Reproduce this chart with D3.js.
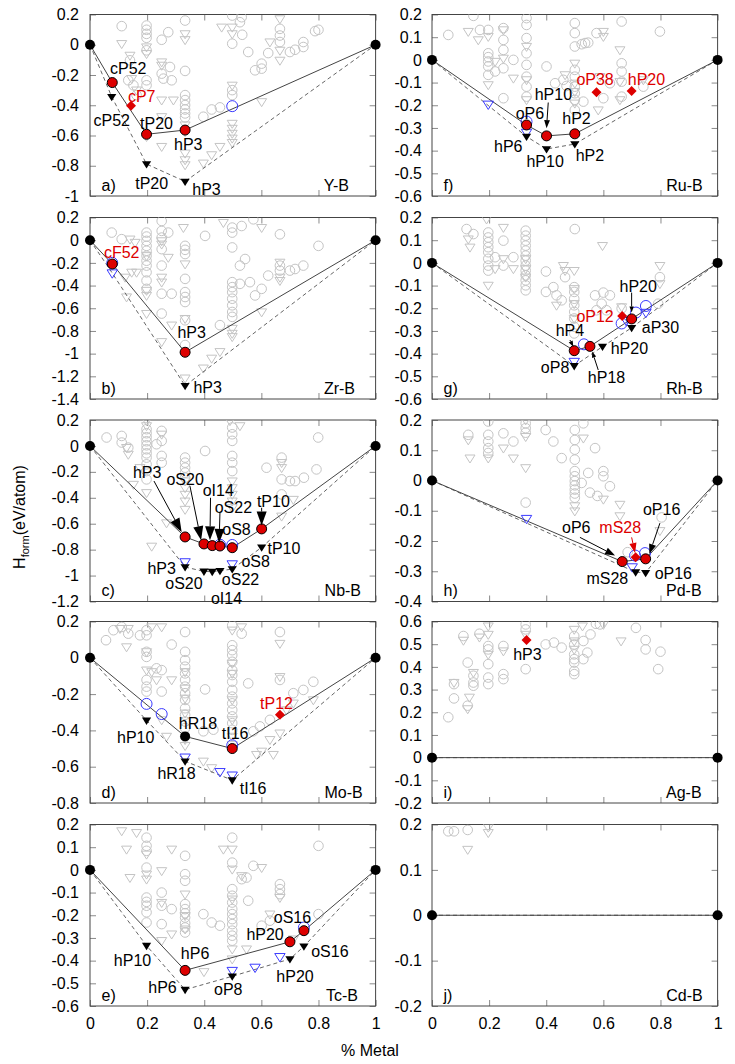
<!DOCTYPE html>
<html><head><meta charset="utf-8">
<script src="https://cdn.jsdelivr.net/npm/d3@7"></script>
<style>body{margin:0;background:#fff}svg{display:block}</style>
</head><body><svg id="chart" width="735" height="1064"></svg>
<script>
// ---------------- DATA ----------------
const xTicks = [0, 0.2, 0.4, 0.6, 0.8, 1];
const xTickLabels = ['0', '0.2', '0.4', '0.6', '0.8', '1'];
const endPoints = [[0, 0], [1, 0]];

// a) Y-B
const yb_yTicks = [-1, -0.8, -0.6, -0.4, -0.2, 0, 0.2];
const yb_grayCircles = [[0.111,0.123],[0.198,0.127],[0.198,0.099],[0.198,0.072],[0.198,0.046],[0.198,-0.037],[0.251,0.033],[0.274,0.083],[0.333,0.16],[0.498,0.193],[0.531,0.182],[0.525,0.149],[0.533,0.066],[0.498,0.007],[0.554,-0.048],[0.624,-0.055],[0.665,0.105],[0.665,0.061],[0.665,0.018],[0.7,-0.048],[0.718,-0.033],[0.747,0.018],[0.747,-0.015],[0.8,0.099],[0.788,0.09],[0.601,-0.125],[0.601,-0.158],[0.578,-0.169],[0.198,-0.235],[0.198,-0.268],[0.251,-0.191],[0.257,-0.224],[0.28,-0.147],[0.286,-0.235],[0.333,-0.173],[0.333,-0.333],[0.333,-0.366],[0.333,-0.399],[0.333,-0.428],[0.333,-0.454],[0.333,-0.48],[0.397,-0.476],[0.426,-0.428],[0.455,-0.414],[0.498,-0.3],[0.498,-0.333],[0.14,-0.103],[0.134,-0.235],[0.152,-0.268],[0.163,-0.333]];
const yb_grayTris = [[0.111,0.007],[0.14,-0.07],[0.198,-0.015],[0.198,-0.059],[0.251,-0.114],[0.251,-0.136],[0.333,0.072],[0.333,0.033],[0.333,-0.531],[0.333,-0.575],[0.333,-0.717],[0.333,-0.761],[0.333,-0.794],[0.292,-0.366],[0.251,-0.366],[0.251,-0.476],[0.198,-0.607],[0.251,-0.673],[0.397,-0.783],[0.426,-0.728],[0.455,-0.673],[0.498,0.116],[0.498,0.072],[0.461,0.116],[0.665,0.171],[0.63,0.018],[0.665,-0.037],[0.665,-0.103],[0.498,-0.268],[0.498,-0.52],[0.498,-0.553],[0.498,-0.586],[0.498,-0.618],[0.498,-0.647],[0.601,-0.377],[0.146,-0.224],[0.163,-0.3]];
const yb_hull = [[0,0],[0.078,-0.25],[0.198,-0.592],[0.333,-0.564],[1,0]];
const yb_hullAlt = [[0,0],[0.076,-0.344],[0.198,-0.789],[0.333,-0.904],[1,0]];
const yb_red = [[0.078,-0.25],[0.198,-0.592],[0.333,-0.564]];
const yb_black = [];
const yb_tris = [[0.076,-0.344],[0.198,-0.789],[0.333,-0.904]];
const yb_blueCircles = [[0.498,-0.406]];
const yb_blueTris = [];
const yb_offHull = [[0.1435,-0.403]];
const yb_labels = [['cP52',0.134,-0.158,0],['cP7',0.181,-0.344,1],['cP52',0.076,-0.498,0],['tP20',0.233,-0.52,0],['hP3',0.344,-0.662,0],['tP20',0.216,-0.914,0],['hP3',0.408,-0.958,0]];
const yb_arrows = [];

// b) Zr-B
const zrb_yTicks = [-1.4, -1.2, -1, -0.8, -0.6, -0.4, -0.2, 0, 0.2];
const zrb_grayCircles = [[0.076,0.067],[0.111,0.009],[0.198,0.067],[0.198,0.032],[0.198,-0.006],[0.198,-0.05],[0.198,-0.093],[0.198,-0.137],[0.198,-0.181],[0.198,-0.224],[0.198,-0.283],[0.198,-0.356],[0.198,-0.429],[0.251,0.169],[0.251,0.082],[0.274,0.067],[0.251,-0.079],[0.251,-0.224],[0.251,-0.472],[0.251,-0.647],[0.286,-0.472],[0.333,-0.05],[0.333,-0.085],[0.333,-0.122],[0.333,-0.341],[0.333,-0.458],[0.333,-0.501],[0.333,-0.545],[0.333,-0.706],[0.333,-0.924],[0.403,0.038],[0.455,-0.749],[0.498,0.111],[0.498,0.067],[0.498,-0.064],[0.498,-0.37],[0.498,-0.414],[0.498,-0.458],[0.498,-0.516],[0.498,-0.574],[0.498,-0.633],[0.498,-0.676],[0.531,0.125],[0.525,-0.224],[0.543,-0.166],[0.525,-0.385],[0.56,-0.37],[0.572,0.184],[0.601,-0.429],[0.578,-0.487],[0.624,-0.312],[0.665,0.052],[0.7,-0.268],[0.718,-0.254],[0.747,-0.224],[0.8,-0.05],[0.251,0.023],[0.665,-0.224],[0.665,-0.268]];
const zrb_grayTris = [[0.327,0.111],[0.333,-0.21],[0.251,-0.006],[0.251,-0.035],[0.274,-0.152],[0.14,0.009],[0.158,-0.02],[0.123,-0.327],[0.146,-0.283],[0.163,-0.283],[0.198,-0.443],[0.198,-0.487],[0.251,-0.327],[0.251,-0.37],[0.198,-0.647],[0.286,-0.749],[0.251,-0.895],[0.333,-0.691],[0.333,-1.216],[0.397,-1.128],[0.426,-1.041],[0.455,-0.983],[0.498,-0.778],[0.498,-0.822],[0.498,-0.851],[0.467,0.155],[0.601,0.111],[0.601,-0.633],[0.665,-0.195],[0.665,-0.327],[0.665,-0.356],[0.198,-0.137],[0.128,-0.501]];
const zrb_hull = [[0,0],[0.078,-0.21],[0.333,-0.988],[1,0]];
const zrb_hullAlt = [[0,0],[0.078,-0.29],[0.333,-1.283],[1,0]];
const zrb_red = [[0.078,-0.21],[0.333,-0.988]];
const zrb_black = [];
const zrb_tris = [[0.333,-1.283]];
const zrb_blueCircles = [[0.078,-0.2]];
const zrb_blueTris = [[0.078,-0.29]];
const zrb_offHull = [];
const zrb_labels = [['cF52',0.111,-0.108,1],['hP3',0.356,-0.816,0],['hP3',0.412,-1.297,0]];
const zrb_arrows = [];

// c) Nb-B
const nbb_yTicks = [-1.2, -1, -0.8, -0.6, -0.4, -0.2, 0, 0.2];
const nbb_grayCircles = [[0.058,0.065],[0.111,0.077],[0.111,0.026],[0.134,-0.013],[0.198,0.129],[0.198,0.098],[0.198,0.067],[0.198,0.036],[0.198,0.005],[0.198,-0.026],[0.198,-0.057],[0.198,-0.09],[0.198,-0.142],[0.198,-0.194],[0.198,-0.258],[0.251,0.116],[0.251,0.039],[0.251,-0.077],[0.251,-0.129],[0.333,-0.09],[0.333,-0.129],[0.333,-0.168],[0.333,-0.206],[0.333,-0.245],[0.403,-0.039],[0.498,0.142],[0.498,0.09],[0.498,0.039],[0.498,-0.077],[0.498,-0.129],[0.498,-0.194],[0.671,-0.09],[0.671,-0.258],[0.671,-0.374],[0.7,-0.271],[0.718,-0.271],[0.749,-0.245],[0.793,-0.181],[0.799,0.065],[0.618,-0.168],[0.233,0.013]];
const nbb_grayTris = [[0.128,-0.013],[0.134,-0.065],[0.198,0.194],[0.198,0.155],[0.175,-0.168],[0.251,0.09],[0.333,-0.271],[0.333,-0.323],[0.333,-0.374],[0.333,-0.426],[0.333,-0.49],[0.498,-0.271],[0.498,-0.323],[0.498,-0.374],[0.498,-0.426],[0.498,-0.477],[0.49,0.194],[0.525,0.155],[0.671,-0.129],[0.671,-0.168],[0.152,-0.297],[0.198,-0.361],[0.268,-0.594],[0.216,-0.774],[0.671,-0.542],[0.712,-0.413]];
const nbb_hull = [[0,0],[0.333,-0.702],[0.399,-0.756],[0.428,-0.769],[0.455,-0.772],[0.498,-0.785],[0.601,-0.64],[1,0]];
const nbb_hullAlt = [[0,0],[0.333,-0.934],[0.399,-0.968],[0.428,-0.97],[0.455,-0.963],[0.498,-0.95],[0.601,-0.782],[1,0]];
const nbb_red = [[0.333,-0.702],[0.399,-0.756],[0.428,-0.769],[0.455,-0.772],[0.498,-0.785],[0.601,-0.64]];
const nbb_black = [];
const nbb_tris = [[0.333,-0.934],[0.399,-0.968],[0.428,-0.97],[0.455,-0.963],[0.498,-0.95],[0.601,-0.782]];
const nbb_blueCircles = [[0.455,-0.762],[0.498,-0.764]];
const nbb_blueTris = [[0.333,-0.895],[0.498,-0.911]];
const nbb_offHull = [];
const nbb_labels = [['hP3',0.2,-0.206,0],['oS20',0.333,-0.258,0],['oI14',0.449,-0.341,0],['oS22',0.502,-0.477,0],['oS8',0.513,-0.645,0],['tP10',0.642,-0.426,0],['tP10',0.679,-0.787,0],['hP3',0.251,-0.942,0],['oS8',0.58,-0.89,0],['oS20',0.329,-1.058,0],['oS22',0.527,-1.033,0],['oI14',0.478,-1.176,0]];
const nbb_arrows = [[0.224,-0.271,0.321,-0.666,0],[0.35,-0.31,0.389,-0.728,0],[0.422,-0.4,0.42,-0.728,0],[0.455,-0.516,0.452,-0.748,0],[0.601,-0.477,0.601,-0.614,0]];

// d) Mo-B
const mob_yTicks = [-0.8, -0.6, -0.4, -0.2, 0, 0.2];
const mob_grayCircles = [[0.056,0.097],[0.082,0.152],[0.111,0.17],[0.134,0.133],[0.175,0.124],[0.198,0.152],[0.198,0.124],[0.198,0.033],[0.198,0.005],[0.198,-0.122],[0.198,-0.159],[0.198,-0.186],[0.251,-0.186],[0.233,-0.058],[0.251,-0.068],[0.286,0.073],[0.333,0.142],[0.333,0.033],[0.333,-0.013],[0.333,-0.049],[0.333,-0.086],[0.333,-0.122],[0.333,-0.159],[0.333,-0.195],[0.333,-0.232],[0.333,-0.278],[0.333,-0.314],[0.333,-0.351],[0.333,-0.387],[0.403,-0.174],[0.498,0.179],[0.498,0.069],[0.498,0.042],[0.498,0.015],[0.498,-0.022],[0.498,-0.068],[0.498,-0.095],[0.498,-0.132],[0.498,-0.177],[0.498,-0.214],[0.498,-0.251],[0.498,-0.287],[0.498,-0.323],[0.498,-0.36],[0.498,-0.397],[0.531,0.133],[0.554,-0.141],[0.665,0.142],[0.665,-0.122],[0.63,-0.342],[0.595,-0.378],[0.712,-0.195],[0.747,-0.177],[0.782,-0.132],[0.572,-0.405],[0.397,-0.405],[0.432,-0.396]];
const mob_grayTris = [[0.105,0.161],[0.134,0.161],[0.216,0.17],[0.251,0.17],[0.128,0.06],[0.198,0.033],[0.198,-0.068],[0.216,-0.077],[0.233,-0.122],[0.286,-0.122],[0.333,-0.077],[0.333,-0.168],[0.333,-0.223],[0.333,-0.305],[0.333,-0.451],[0.333,-0.484],[0.397,-0.57],[0.426,-0.606],[0.498,0.152],[0.498,-0.031],[0.498,-0.086],[0.498,-0.232],[0.498,-0.342],[0.498,-0.433],[0.498,-0.479],[0.531,0.17],[0.583,-0.533],[0.601,-0.515],[0.63,-0.451],[0.665,-0.415],[0.665,-0.104],[0.665,0.079],[0.642,-0.533],[0.688,-0.287],[0.712,-0.25],[0.782,-0.232],[0.268,-0.433],[0.251,-0.342]];
const mob_hull = [[0,0],[0.333,-0.433],[0.498,-0.5],[1,0]];
const mob_hullAlt = [[0,0],[0.198,-0.345],[0.333,-0.57],[0.498,-0.674],[1,0]];
const mob_red = [[0.498,-0.5]];
const mob_black = [[0.333,-0.433]];
const mob_tris = [[0.198,-0.345],[0.333,-0.57],[0.498,-0.674]];
const mob_blueCircles = [[0.198,-0.254],[0.251,-0.31],[0.498,-0.482]];
const mob_blueTris = [[0.455,-0.628],[0.333,-0.548],[0.498,-0.647]];
const mob_offHull = [[0.665,-0.314]];
const mob_labels = [['hP10',0.16,-0.437,0],['hR18',0.378,-0.363,0],['tI16',0.508,-0.415,0],['tP12',0.653,-0.25,1],['hR18',0.303,-0.637,0],['tI16',0.571,-0.721,0]];
const mob_arrows = [];

// e) Tc-B
const tcb_yTicks = [-0.6, -0.5, -0.4, -0.3, -0.2, -0.1, 0, 0.1, 0.2];
const tcb_grayCircles = [[0.198,0.142],[0.198,0.106],[0.198,0.084],[0.198,0.01],[0.333,0.062],[0.333,-0.019],[0.333,-0.048],[0.333,-0.151],[0.333,-0.173],[0.333,-0.191],[0.333,-0.21],[0.333,-0.235],[0.333,-0.254],[0.333,-0.276],[0.198,-0.122],[0.198,-0.141],[0.198,-0.158],[0.198,-0.187],[0.198,-0.232],[0.251,-0.1],[0.251,-0.158],[0.251,-0.239],[0.286,-0.173],[0.397,-0.195],[0.426,-0.232],[0.455,-0.246],[0.498,0.142],[0.498,0.032],[0.498,-0.085],[0.498,-0.114],[0.498,-0.144],[0.498,-0.173],[0.498,-0.195],[0.498,-0.217],[0.498,-0.239],[0.498,-0.268],[0.498,-0.29],[0.498,-0.312],[0.531,-0.041],[0.548,-0.034],[0.572,0.018],[0.554,-0.136],[0.665,-0.063],[0.665,-0.085],[0.665,-0.107],[0.8,0.106],[0.8,-0.195],[0.601,-0.246],[0.63,-0.224]];
const tcb_grayTris = [[0.111,0.172],[0.163,0.164],[0.128,0.091],[0.286,0.091],[0.467,0.091],[0.498,0.091],[0.601,0.01],[0.198,0.069],[0.198,-0.019],[0.198,-0.041],[0.14,-0.034],[0.251,-0.004],[0.251,-0.144],[0.333,-0.107],[0.286,-0.283],[0.251,-0.312],[0.333,-0.202],[0.333,-0.261],[0.399,-0.449],[0.498,0.003],[0.498,-0.129],[0.498,-0.349],[0.498,-0.393],[0.531,-0.026],[0.63,-0.195],[0.665,-0.122],[0.712,-0.305],[0.548,-0.349]];
const tcb_hull = [[0,0],[0.333,-0.443],[0.7,-0.317],[0.749,-0.268],[1,0]];
const tcb_hullAlt = [[0,0],[0.198,-0.334],[0.333,-0.528],[0.498,-0.469],[0.7,-0.393],[0.749,-0.337],[1,0]];
const tcb_red = [[0.333,-0.443],[0.7,-0.317],[0.749,-0.268]];
const tcb_black = [];
const tcb_tris = [[0.198,-0.334],[0.333,-0.528],[0.498,-0.469],[0.7,-0.393],[0.749,-0.337]];
const tcb_blueCircles = [[0.749,-0.254]];
const tcb_blueTris = [[0.498,-0.444],[0.578,-0.43],[0.665,-0.383]];
const tcb_offHull = [];
const tcb_labels = [['hP10',0.149,-0.4,0],['hP6',0.368,-0.368,0],['hP6',0.254,-0.52,0],['oP8',0.484,-0.528,0],['hP20',0.613,-0.286,0],['oS16',0.709,-0.21,0],['oS16',0.84,-0.359,0],['hP20',0.718,-0.469,0]];
const tcb_arrows = [];

// f) Ru-B
const rub_yTicks = [-0.6, -0.5, -0.4, -0.3, -0.2, -0.1, 0, 0.1, 0.2];
const rub_grayCircles = [[0.057,0.11],[0.145,0.194],[0.168,0.132],[0.197,0.132],[0.197,0.029],[0.197,0.012],[0.197,-0.007],[0.197,-0.029],[0.197,-0.066],[0.221,-0.051],[0.25,0.14],[0.25,0.088],[0.25,0.044],[0.25,-0.037],[0.25,-0.169],[0.285,0],[0.331,0.184],[0.331,0.154],[0.331,0.096],[0.331,0.029],[0.331,-0.022],[0.331,-0.074],[0.331,-0.118],[0.331,-0.162],[0.401,-0.029],[0.431,-0.103],[0.46,-0.088],[0.471,-0.115],[0.5,0.162],[0.5,0.118],[0.5,0.059],[0.5,-0.044],[0.5,-0.074],[0.5,-0.118],[0.5,-0.147],[0.5,-0.176],[0.5,-0.221],[0.524,0.069],[0.536,0.074],[0.547,0.076],[0.576,0.118],[0.6,-0.169],[0.664,0.169],[0.664,-0.015],[0.664,-0.051],[0.664,-0.096],[0.664,-0.162],[0.74,-0.118],[0.798,0.125],[0.53,-0.184],[0.623,-0.103]];
const rub_grayTris = [[0.127,0.125],[0.162,0.088],[0.197,0.103],[0.197,-0.11],[0.221,-0.007],[0.25,0.132],[0.25,0.007],[0.285,-0.081],[0.331,0.059],[0.331,-0.088],[0.331,-0.176],[0.466,-0.066],[0.5,-0.015],[0.5,-0.103],[0.5,-0.14],[0.5,-0.191],[0.6,0.125],[0.6,0.103],[0.582,-0.221],[0.658,0.044],[0.658,-0.096],[0.658,-0.176],[0.74,-0.088],[0.588,-0.074]];
const rub_hull = [[0,0],[0.331,-0.287],[0.401,-0.335],[0.5,-0.326],[1,0]];
const rub_hullAlt = [[0,0],[0.331,-0.338],[0.401,-0.393],[0.5,-0.371],[1,0]];
const rub_red = [[0.331,-0.287],[0.401,-0.335],[0.5,-0.326]];
const rub_black = [];
const rub_tris = [[0.331,-0.338],[0.401,-0.393],[0.5,-0.371]];
const rub_blueCircles = [[0.331,-0.272]];
const rub_blueTris = [[0.197,-0.196],[0.331,-0.32]];
const rub_offHull = [[0.576,-0.143],[0.699,-0.137]];
const rub_labels = [['oP38',0.571,-0.088,1],['hP20',0.751,-0.088,1],['hP10',0.425,-0.154,0],['oP6',0.343,-0.235,0],['hP2',0.506,-0.257,0],['hP6',0.267,-0.382,0],['hP10',0.396,-0.449,0],['hP2',0.553,-0.419,0]];
const rub_arrows = [[0.407,-0.188,0.401,-0.301,0]];

// g) Rh-B
const rhb_yTicks = [-0.6, -0.5, -0.4, -0.3, -0.2, -0.1, 0, 0.1, 0.2];
const rhb_grayCircles = [[0.121,0.149],[0.145,0.127],[0.197,0.134],[0.197,0.112],[0.197,0.091],[0.197,0.069],[0.197,0.047],[0.197,0.018],[0.197,-0.012],[0.197,-0.034],[0.221,0.025],[0.25,0.098],[0.25,-0.012],[0.285,0.025],[0.328,0.142],[0.328,0.12],[0.328,0.098],[0.328,0.076],[0.328,0.054],[0.328,0.032],[0.328,0.01],[0.328,-0.012],[0.328,-0.034],[0.328,-0.055],[0.328,-0.077],[0.328,-0.099],[0.328,-0.121],[0.399,-0.038],[0.399,-0.128],[0.425,-0.107],[0.436,-0.143],[0.454,-0.165],[0.466,-0.063],[0.5,0.149],[0.498,-0.107],[0.498,-0.128],[0.498,-0.158],[0.498,-0.187],[0.498,-0.216],[0.498,-0.245],[0.498,-0.282],[0.498,-0.311],[0.571,-0.143],[0.6,-0.131],[0.623,-0.143],[0.594,-0.18],[0.611,-0.209],[0.576,-0.209],[0.664,-0.201],[0.798,-0.063],[0.792,-0.18]];
const rhb_grayTris = [[0.127,0.105],[0.133,0.069],[0.191,0.193],[0.197,-0.099],[0.221,-0.026],[0.25,0.156],[0.25,0.018],[0.285,-0.026],[0.328,0.018],[0.328,-0.026],[0.328,-0.063],[0.436,-0.187],[0.46,-0.012],[0.466,-0.034],[0.498,-0.034],[0.498,-0.114],[0.498,-0.18],[0.498,-0.245],[0.597,0.076],[0.664,-0.194],[0.798,-0.012],[0.798,-0.092]];
const rhb_hull = [[0,0],[0.498,-0.387],[0.553,-0.368],[0.699,-0.247],[1,0]];
const rhb_hullAlt = [[0,0],[0.498,-0.454],[0.597,-0.369],[0.699,-0.286],[1,0]];
const rhb_red = [[0.498,-0.387],[0.553,-0.368],[0.699,-0.247]];
const rhb_black = [];
const rhb_tris = [[0.498,-0.454],[0.597,-0.369],[0.699,-0.286]];
const rhb_blueCircles = [[0.532,-0.359],[0.664,-0.267],[0.714,-0.219],[0.749,-0.19]];
const rhb_blueTris = [[0.749,-0.219],[0.498,-0.435],[0.68,-0.255]];
const rhb_offHull = [[0.666,-0.234]];
const rhb_labels = [['hP20',0.722,-0.102,0],['oP12',0.571,-0.236,1],['aP30',0.8,-0.286,0],['hP4',0.483,-0.296,0],['hP20',0.691,-0.377,0],['oP8',0.431,-0.46,0],['hP18',0.611,-0.504,0]];
const rhb_arrows = [[0.699,-0.131,0.699,-0.219,0],[0.483,-0.34,0.495,-0.37,0],[0.582,-0.472,0.561,-0.391,0]];

// h) Pd-B
const pdb_yTicks = [-0.4, -0.3, -0.2, -0.1, 0, 0.1, 0.2];
const pdb_grayCircles = [[0.127,0.151],[0.197,0.195],[0.197,0.151],[0.197,0.129],[0.197,0.107],[0.197,0.091],[0.25,0.156],[0.285,0.129],[0.328,0.189],[0.328,0.173],[0.328,0.158],[0.328,-0.073],[0.398,0.167],[0.425,0.129],[0.454,0.074],[0.5,0.167],[0.5,0.134],[0.5,0.102],[0.5,0.069],[0.5,0.031],[0.5,0.014],[0.5,-0.002],[0.5,-0.016],[0.5,-0.03],[0.5,-0.043],[0.5,-0.057],[0.53,0.189],[0.524,-0.008],[0.547,0.025],[0.553,-0.04],[0.571,0.107],[0.579,-0.051],[0.6,0.031],[0.6,0.014],[0.623,-0.019],[0.685,-0.237],[0.804,-0.122]];
const pdb_grayTris = [[0.127,0.134],[0.133,0.074],[0.197,0.074],[0.25,0.107],[0.285,0.074],[0.328,0.2],[0.328,0.145],[0.328,0.042],[0.5,-0.084],[0.5,-0.101],[0.53,0.14],[0.6,-0.062],[0.658,-0.117],[0.658,-0.079],[0.798,-0.166]];
const pdb_hull = [[0,0],[0.666,-0.268],[0.748,-0.259],[1,0]];
const pdb_hullAlt = [[0,0],[0.713,-0.303],[0.748,-0.305],[1,0]];
const pdb_red = [[0.666,-0.268],[0.748,-0.259]];
const pdb_black = [];
const pdb_tris = [[0.713,-0.303],[0.748,-0.305]];
const pdb_blueCircles = [[0.711,-0.248],[0.746,-0.24]];
const pdb_blueTris = [[0.331,-0.126],[0.701,-0.286]];
const pdb_offHull = [[0.713,-0.254]];
const pdb_labels = [['oP6',0.505,-0.155,0],['mS28',0.659,-0.155,1],['oP16',0.804,-0.095,0],['mS28',0.614,-0.325,0],['oP16',0.845,-0.306,0]];
const pdb_arrows = [[0.518,-0.188,0.641,-0.248,0],[0.699,-0.188,0.711,-0.24,1],[0.798,-0.141,0.761,-0.243,0]];

// i) Ag-B
const agb_yTicks = [-0.2, -0.1, 0, 0.1, 0.2, 0.3, 0.4, 0.5, 0.6];
const agb_grayCircles = [[0.057,0.178],[0.077,0.261],[0.077,0.324],[0.11,0.536],[0.125,0.419],[0.125,0.229],[0.145,0.361],[0.145,0.331],[0.145,0.317],[0.166,0.546],[0.197,0.492],[0.197,0.477],[0.197,0.412],[0.197,0.353],[0.197,0.324],[0.25,0.492],[0.25,0.368],[0.25,0.346],[0.328,0.587],[0.328,0.565],[0.328,0.39],[0.398,0.499],[0.427,0.507],[0.454,0.485],[0.498,0.536],[0.498,0.499],[0.498,0.455],[0.498,0.434],[0.498,0.419],[0.498,0.382],[0.498,0.368],[0.53,0.514],[0.53,0.434],[0.544,0.463],[0.555,0.543],[0.574,0.59],[0.588,0.587],[0.714,0.572],[0.748,0.518],[0.748,0.477],[0.8,0.467],[0.792,0.39]];
const agb_grayTris = [[0.077,0.331],[0.11,0.517],[0.125,0.215],[0.131,0.266],[0.145,0.375],[0.166,0.531],[0.197,0.58],[0.197,0.543],[0.197,0.455],[0.25,0.47],[0.328,0.543],[0.498,0.565],[0.498,0.514],[0.498,0.477],[0.527,0.58],[0.6,0.587],[0.662,0.514]];
const agb_hull = [[0,0],[1,0]];
const agb_hullAlt = [[0,0],[1,0]];
const agb_red = [];
const agb_black = [];
const agb_tris = [];
const agb_blueCircles = [];
const agb_blueTris = [];
const agb_offHull = [[0.331,0.518]];
const agb_labels = [['hP3',0.334,0.455,0]];
const agb_arrows = [];

// j) Cd-B
const cdb_yTicks = [-0.2, -0.1, 0, 0.1, 0.2];
const cdb_grayCircles = [[0.057,0.185],[0.077,0.185],[0.125,0.188]];
const cdb_grayTris = [[0.197,0.182],[0.125,0.145],[0.197,0.194]];
const cdb_hull = [[0,0],[1,0]];
const cdb_hullAlt = [[0,0],[1,0]];
const cdb_red = [];
const cdb_black = [];
const cdb_tris = [];
const cdb_blueCircles = [];
const cdb_blueTris = [];
const cdb_offHull = [];
const cdb_labels = [];
const cdb_arrows = [];

// ---------------- PANEL SET-UP ----------------
const panels = [
  {tag:'a)', name:'Y-B',  col:0,row:0,yDomain:[-1,0.2],  yTicks:yb_yTicks, gc:yb_grayCircles, gt:yb_grayTris, hull:yb_hull, hullAlt:yb_hullAlt, red:yb_red, black:yb_black, tris:yb_tris, bc:yb_blueCircles, bt:yb_blueTris, off:yb_offHull, labels:yb_labels, arrows:yb_arrows, nameX:0.907, head:7},
  {tag:'b)', name:'Zr-B', col:0,row:1,yDomain:[-1.4,0.2],yTicks:zrb_yTicks, gc:zrb_grayCircles, gt:zrb_grayTris, hull:zrb_hull, hullAlt:zrb_hullAlt, red:zrb_red, black:zrb_black, tris:zrb_tris, bc:zrb_blueCircles, bt:zrb_blueTris, off:zrb_offHull, labels:zrb_labels, arrows:zrb_arrows, nameX:0.928, head:7},
  {tag:'c)', name:'Nb-B', col:0,row:2,yDomain:[-1.2,0.2],yTicks:nbb_yTicks, gc:nbb_grayCircles, gt:nbb_grayTris, hull:nbb_hull, hullAlt:nbb_hullAlt, red:nbb_red, black:nbb_black, tris:nbb_tris, bc:nbb_blueCircles, bt:nbb_blueTris, off:nbb_offHull, labels:nbb_labels, arrows:nbb_arrows, nameX:0.949, head:14},
  {tag:'d)', name:'Mo-B', col:0,row:3,yDomain:[-0.8,0.2],yTicks:mob_yTicks, gc:mob_grayCircles, gt:mob_grayTris, hull:mob_hull, hullAlt:mob_hullAlt, red:mob_red, black:mob_black, tris:mob_tris, bc:mob_blueCircles, bt:mob_blueTris, off:mob_offHull, labels:mob_labels, arrows:mob_arrows, nameX:0.955, head:7},
  {tag:'e)', name:'Tc-B', col:0,row:4,yDomain:[-0.6,0.2],yTicks:tcb_yTicks, gc:tcb_grayCircles, gt:tcb_grayTris, hull:tcb_hull, hullAlt:tcb_hullAlt, red:tcb_red, black:tcb_black, tris:tcb_tris, bc:tcb_blueCircles, bt:tcb_blueTris, off:tcb_offHull, labels:tcb_labels, arrows:tcb_arrows, nameX:0.938, head:7},
  {tag:'f)', name:'Ru-B', col:1,row:0,yDomain:[-0.6,0.2],yTicks:rub_yTicks, gc:rub_grayCircles, gt:rub_grayTris, hull:rub_hull, hullAlt:rub_hullAlt, red:rub_red, black:rub_black, tris:rub_tris, bc:rub_blueCircles, bt:rub_blueTris, off:rub_offHull, labels:rub_labels, arrows:rub_arrows, nameX:0.948, head:8},
  {tag:'g)', name:'Rh-B', col:1,row:1,yDomain:[-0.6,0.2],yTicks:rhb_yTicks, gc:rhb_grayCircles, gt:rhb_grayTris, hull:rhb_hull, hullAlt:rhb_hullAlt, red:rhb_red, black:rhb_black, tris:rhb_tris, bc:rhb_blueCircles, bt:rhb_blueTris, off:rhb_offHull, labels:rhb_labels, arrows:rhb_arrows, nameX:0.948, head:6},
  {tag:'h)', name:'Pd-B', col:1,row:2,yDomain:[-0.4,0.2],yTicks:pdb_yTicks, gc:pdb_grayCircles, gt:pdb_grayTris, hull:pdb_hull, hullAlt:pdb_hullAlt, red:pdb_red, black:pdb_black, tris:pdb_tris, bc:pdb_blueCircles, bt:pdb_blueTris, off:pdb_offHull, labels:pdb_labels, arrows:pdb_arrows, nameX:0.944, head:10},
  {tag:'i)', name:'Ag-B', col:1,row:3,yDomain:[-0.2,0.6],yTicks:agb_yTicks, gc:agb_grayCircles, gt:agb_grayTris, hull:agb_hull, hullAlt:agb_hullAlt, red:agb_red, black:agb_black, tris:agb_tris, bc:agb_blueCircles, bt:agb_blueTris, off:agb_offHull, labels:agb_labels, arrows:agb_arrows, nameX:0.944, head:7},
  {tag:'j)', name:'Cd-B', col:1,row:4,yDomain:[-0.2,0.2],yTicks:cdb_yTicks, gc:cdb_grayCircles, gt:cdb_grayTris, hull:cdb_hull, hullAlt:cdb_hullAlt, red:cdb_red, black:cdb_black, tris:cdb_tris, bc:cdb_blueCircles, bt:cdb_blueTris, off:cdb_offHull, labels:cdb_labels, arrows:cdb_arrows, nameX:0.948, head:7}
];

// ---------------- DRAW ----------------
const FONT = '"Liberation Sans", Arial, Helvetica, sans-serif';
const PW = 285.6, PH = 181.5;
const colX = [90, 432], rowY = [14.5, 217.5, 420, 621.5, 824.5];
const GRAY = '#c4c4c4', RED = '#dd0000', BLUE = '#3a3aff';
const svg = d3.select('#chart');
const fmt = v => String(Math.round(v * 10) / 10);
const triPath = (cx, cy, s) => `M${cx - s},${cy - s * 0.62}L${cx + s},${cy - s * 0.62}L${cx},${cy + s * 0.98}Z`;
const diaPath = (cx, cy, s) => `M${cx},${cy - s}L${cx + s},${cy}L${cx},${cy + s}L${cx - s},${cy}Z`;

panels.forEach((p, i) => {
  const X0 = colX[p.col], Y0 = rowY[p.row];
  const x = d3.scaleLinear().domain([0, 1]).range([X0, X0 + PW]);
  const y = d3.scaleLinear().domain(p.yDomain).range([Y0 + PH, Y0]);
  const g = svg.append('g');
  const cid = 'clip' + i;
  g.append('clipPath').attr('id', cid).append('rect').attr('x', X0).attr('y', Y0).attr('width', PW).attr('height', PH);

  const styleAxis = sel => {
    sel.attr('font-size', 16).attr('font-family', FONT);
    sel.select('.domain').remove();
    sel.selectAll('.tick line').attr('stroke', '#8a8a8a');
    sel.selectAll('.tick text').attr('fill', '#000');
  };
  g.append('g').attr('transform', `translate(${X0},0)`)
    .call(d3.axisLeft(y).tickValues(p.yTicks).tickSizeInner(-6).tickSizeOuter(0).tickPadding(p.col ? 10 : 11).tickFormat(fmt)).call(styleAxis);
  g.append('g').attr('transform', `translate(${X0 + PW},0)`)
    .call(d3.axisRight(y).tickValues(p.yTicks).tickSizeInner(-6).tickSizeOuter(0).tickFormat('')).call(styleAxis);
  g.append('g').attr('transform', `translate(0,${Y0})`)
    .call(d3.axisTop(x).tickValues(xTicks).tickSizeInner(-6).tickSizeOuter(0).tickFormat('')).call(styleAxis);
  g.append('g').attr('transform', `translate(0,${Y0 + PH})`)
    .call(d3.axisBottom(x).tickValues(xTicks).tickSizeInner(-6).tickSizeOuter(0).tickPadding(12)
      .tickFormat(p.row === 4 ? ((d, k) => xTickLabels[k]) : '')).call(styleAxis);

  g.append('rect').attr('x', X0).attr('y', Y0).attr('width', PW).attr('height', PH)
    .attr('fill', 'none').attr('stroke', '#444').attr('stroke-width', 1);

  const cg = g.append('g').attr('clip-path', `url(#${cid})`);
  cg.selectAll('circle.gc').data(p.gc).join('circle')
    .attr('cx', d => x(d[0])).attr('cy', d => y(d[1])).attr('r', 4.8)
    .attr('fill', 'none').attr('stroke', GRAY).attr('stroke-width', 1);
  cg.selectAll('path.gt').data(p.gt).join('path')
    .attr('d', d => triPath(x(d[0]), y(d[1]), 5))
    .attr('fill', 'none').attr('stroke', GRAY).attr('stroke-width', 1);

  const line = d3.line().x(d => x(d[0])).y(d => y(d[1]));
  g.append('path').attr('d', line(p.hullAlt)).attr('fill', 'none').attr('stroke', '#666')
    .attr('stroke-width', 1).attr('stroke-dasharray', '4,3');
  g.append('path').attr('d', line(p.hull)).attr('fill', 'none').attr('stroke', '#444').attr('stroke-width', 1);

  g.selectAll('circle.bc').data(p.bc).join('circle')
    .attr('cx', d => x(d[0])).attr('cy', d => y(d[1])).attr('r', 5.5)
    .attr('fill', 'none').attr('stroke', BLUE).attr('stroke-width', 1);
  g.selectAll('path.bt').data(p.bt).join('path')
    .attr('d', d => triPath(x(d[0]), y(d[1]), 5.2))
    .attr('fill', 'none').attr('stroke', BLUE).attr('stroke-width', 1);

  g.selectAll('path.tr').data(p.tris).join('path')
    .attr('d', d => triPath(x(d[0]), y(d[1]), 4.6)).attr('fill', '#000');

  g.selectAll('path.dm').data(p.off).join('path')
    .attr('d', d => diaPath(x(d[0]), y(d[1]), 5)).attr('fill', RED);

  g.selectAll('circle.rc').data(p.red).join('circle')
    .attr('cx', d => x(d[0])).attr('cy', d => y(d[1])).attr('r', 5)
    .attr('fill', RED).attr('stroke', '#000').attr('stroke-width', 1);

  g.selectAll('circle.bk').data(endPoints.concat(p.black)).join('circle')
    .attr('cx', d => x(d[0])).attr('cy', d => y(d[1])).attr('r', 5).attr('fill', '#000');

  p.arrows.forEach(a => {
    const x1 = x(a[0]), y1 = y(a[1]), x2 = x(a[2]), y2 = y(a[3]);
    const col = a[4] ? RED : '#000';
    const dx = x2 - x1, dy = y2 - y1, L = Math.hypot(dx, dy), ux = dx / L, uy = dy / L;
    const hl = p.head, hw = hl * 0.36;
    const bx = x2 - ux * hl, by = y2 - uy * hl;
    g.append('line').attr('x1', x1).attr('y1', y1).attr('x2', bx).attr('y2', by)
      .attr('stroke', col).attr('stroke-width', 1);
    g.append('path').attr('d', `M${x2},${y2}L${bx - uy * hw},${by + ux * hw}L${bx + uy * hw},${by - ux * hw}Z`).attr('fill', col);
  });

  g.selectAll('text.lb').data(p.labels).join('text')
    .attr('x', d => x(d[1])).attr('y', d => y(d[2])).attr('dy', '0.35em')
    .attr('text-anchor', 'middle').attr('font-family', FONT).attr('font-size', 16)
    .attr('fill', d => d[3] ? RED : '#000').text(d => d[0]);

  g.append('text').attr('x', X0 + 11.5).attr('y', Y0 + PH - 11).attr('dy', '0.35em')
    .attr('font-family', FONT).attr('font-size', 16).text(p.tag);
  g.append('text').attr('x', x(p.nameX)).attr('y', Y0 + PH - 11).attr('dy', '0.35em')
    .attr('text-anchor', 'end').attr('font-family', FONT).attr('font-size', 16).text(p.name);
});

const yl = svg.append('text').attr('transform', 'translate(25,517) rotate(-90)')
  .attr('text-anchor', 'middle').attr('font-family', FONT).attr('font-size', 16);
yl.append('tspan').text('H');
yl.append('tspan').attr('font-size', 11).attr('dy', 4).text('form');
yl.append('tspan').attr('dy', -4).text('(eV/atom)');

svg.append('text').attr('x', 370).attr('y', 1050).attr('dy', '0.35em').attr('text-anchor', 'middle')
  .attr('font-family', FONT).attr('font-size', 16).text('% Metal');
</script></body></html>
